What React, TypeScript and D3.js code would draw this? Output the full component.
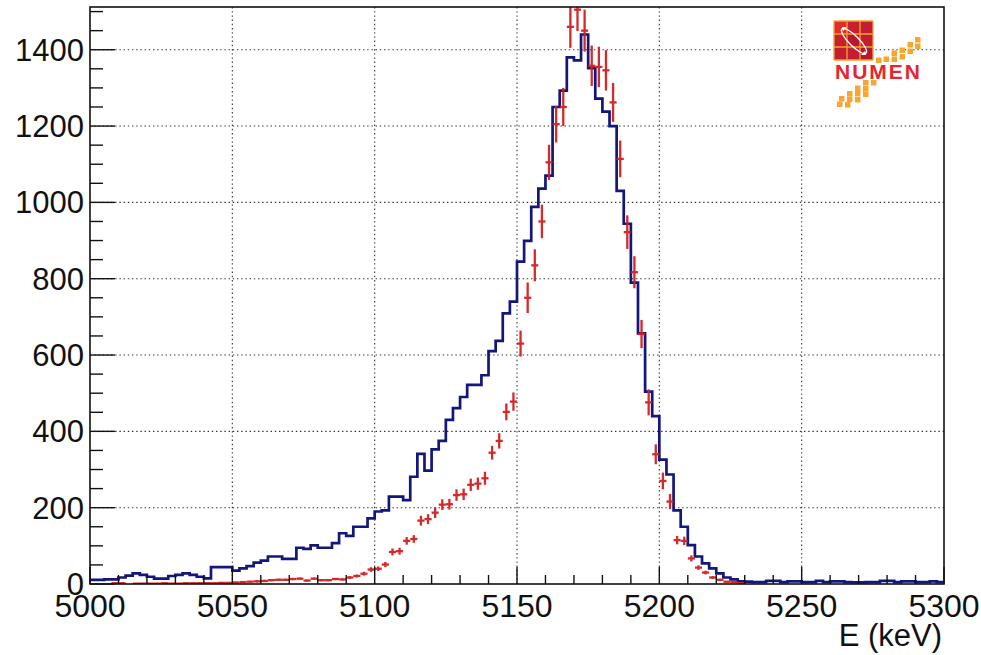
import React from 'react';
import * as d3 from 'd3';

// ---- data ----
const BIN_START = 5000; // keV
const BIN_WIDTH = 2.5; // keV

// blue histogram (simulation), counts per bin
const blueCounts = [
  11, 11, 12, 12, 17, 22, 28, 24, 19, 14,
  14, 21, 24, 28, 24, 19, 15, 44, 44, 44,
  35, 41, 47, 56, 61, 72, 72, 66, 66, 95,
  92, 101, 95, 95, 107, 133, 126, 150, 150, 172,
  190, 193, 229, 229, 220, 281, 341, 297, 353, 375,
  430, 461, 490, 522, 522, 547, 610, 637, 709, 740,
  845, 899, 988, 1036, 1070, 1250, 1293, 1380, 1372, 1440,
  1352, 1272, 1238, 1200, 1030, 944, 790, 657, 504, 440,
  326, 287, 193, 150, 102, 72, 54, 41, 28, 17,
  12, 7, 6, 5, 5, 8, 8, 5, 7, 7,
  5, 5, 8, 5, 7, 7, 5, 4, 4, 5,
  5, 8, 8, 5, 7, 7, 5, 5, 7, 5,
];

// red points (data), counts per bin
const redCounts = [
  0, 0, 0, 2, 2, 0, 1, 1, 1, 1,
  2, 1, 1, 2, 2, 2, 2, 2, 3, 3,
  4, 5, 6, 7, 8, 10, 11, 11, 13, 14,
  9, 14, 10, 10, 13, 12, 17, 21, 27, 38,
  40, 51, 84, 86, 113, 118, 166, 170, 187, 208,
  209, 233, 235, 260, 263, 277, 344, 375, 451, 478,
  630, 750, 835, 950, 1105, 1205, 1250, 1460, 1505, 1450,
  1358, 1355, 1346, 1262, 1114, 922, 817, 655, 476, 340,
  270, 216, 115, 113, 67, 43, 30, 17, 11, 6,
  5, 2, 0, 0, 0, 0, 0, 0, 0, 0,
  0, 0, 0, 0, 0, 0, 0, 0, 0, 0,
  0, 0, 0, 0, 0, 0, 0, 0, 0, 0,
];

// red vertical error (half length)
const redErrors = [
  0, 0, 0, 1, 1, 0, 1, 1, 1, 1,
  1, 1, 1, 1, 1, 1, 1, 1, 2, 2,
  2, 2, 2, 3, 3, 3, 3, 3, 3, 3,
  3, 3, 3, 3, 3, 3, 4, 4, 5, 6,
  6, 7, 9, 9, 10, 10, 13, 13, 14, 14,
  14, 15, 15, 16, 16, 17, 18, 20, 22, 24,
  34, 40, 42, 44, 46, 48, 50, 55, 56, 55,
  53, 53, 53, 51, 48, 44, 42, 37, 34, 26,
  22, 20, 11, 11, 8, 6, 5, 4, 3, 2,
  2, 1, 0, 0, 0, 0, 0, 0, 0, 0,
  0, 0, 0, 0, 0, 0, 0, 0, 0, 0,
  0, 0, 0, 0, 0, 0, 0, 0, 0, 0,
];

const xTickValues = [5000, 5050, 5100, 5150, 5200, 5250, 5300];
const yTickValues = [0, 200, 400, 600, 800, 1000, 1200, 1400];
const xTitle = 'E (keV)';
const logoText = 'NUMEN';

// ---- layout ----
const W = 981;
const H = 655;
const FL = 90, FR = 944, FT = 7, FB = 584;
const FONT = '"Liberation Sans", Arial, Helvetica, sans-serif';
const BLUE = '#13167a';
const RED = '#d21f1f';

const logoCells = [
  ['#e42b2b', '#c61f2e', '#c21d30'],
  ['#c61f2e', '#b9172c', '#c21d30'],
  ['#c21d30', '#c21d30', '#b9172c'],
];
const logoSquaresTop = [
  [915, 37], [915, 43.5], [907.5, 42], [907.5, 48.5], [899.5, 47.5], [899.5, 54],
  [891.5, 50.5], [891.5, 56.5], [883.5, 56.5], [876, 57.5],
];
const logoSquaresBottom = [
  [863, 80], [871, 80], [855, 85.5], [863, 86], [847, 91], [855, 91], [863, 91.5],
  [839, 96], [847, 96.5], [855, 97], [837, 101.5], [845, 102],
];

export default function App() {
  const x = d3.scaleLinear().domain([5000, 5300]).range([FL, FR]);
  const y = d3.scaleLinear().domain([0, 1512]).range([FB, FT]);

  const stepPts: [number, number][] = [];
  blueCounts.forEach((v, i) => {
    const e0 = BIN_START + i * BIN_WIDTH;
    stepPts.push([e0, v], [e0 + BIN_WIDTH, v]);
  });
  const line = d3
    .line<[number, number]>()
    .x((d) => x(d[0]))
    .y((d) => y(d[1]));
  const bluePath = line(stepPts) || '';

  const xMinor = d3.range(5000, 5300.1, 10);
  const yMinor = d3.range(0, 1512, 50);

  return (
    <svg
      width={W}
      height={H}
      viewBox={`0 0 ${W} ${H}`}
      style={{ position: 'absolute', left: 0, top: 0, background: '#fff', display: 'block' }}
    >
      <defs>
        <clipPath id="frameClip">
          <rect x={FL} y={FT} width={FR - FL} height={FB - FT} />
        </clipPath>
      </defs>
      <rect x={0} y={0} width={W} height={H} fill="#fff" />

      {/* grid */}
      <g stroke="#333" strokeWidth={1.1} strokeDasharray="1.4 2.8">
        {xTickValues
          .filter((v) => v > 5000 && v < 5300)
          .map((v) => (
            <line key={'gx' + v} x1={x(v)} x2={x(v)} y1={FT} y2={FB} />
          ))}
        {yTickValues
          .filter((v) => v > 0)
          .map((v) => (
            <line key={'gy' + v} x1={FL} x2={FR} y1={y(v)} y2={y(v)} />
          ))}
      </g>

      {/* data */}
      <g clipPath="url(#frameClip)">
        <path d={bluePath} fill="none" stroke={BLUE} strokeWidth={2.7} strokeLinejoin="miter" />
        <g stroke={RED} strokeWidth={2.3} opacity={0.95}>
          {redCounts.map((v, i) => {
            if (v <= 0) return null;
            const e0 = BIN_START + i * BIN_WIDTH;
            const c = e0 + BIN_WIDTH / 2;
            const err = redErrors[i];
            return (
              <g key={'r' + i}>
                <line x1={x(e0)} x2={x(e0 + BIN_WIDTH)} y1={y(v)} y2={y(v)} />
                {err > 0 && <line x1={x(c)} x2={x(c)} y1={y(v - err)} y2={y(v + err)} />}
              </g>
            );
          })}
        </g>
      </g>

      {/* ticks */}
      <g stroke="#111" strokeWidth={1.4}>
        {xMinor.map((v) => {
          const major = xTickValues.includes(v);
          return <line key={'tx' + v} x1={x(v)} x2={x(v)} y1={FB} y2={FB - (major ? 17 : 9)} />;
        })}
        {yMinor.map((v) => {
          const major = yTickValues.includes(v);
          return <line key={'ty' + v} x1={FL} x2={FL + (major ? 25 : 13)} y1={y(v)} y2={y(v)} />;
        })}
      </g>

      {/* frame */}
      <rect x={FL} y={FT} width={FR - FL} height={FB - FT} fill="none" stroke="#111" strokeWidth={1.6} />

      {/* labels */}
      <g fontFamily={FONT} fill="#111">
        {yTickValues.map((v) => (
          <text key={'ly' + v} x={84} y={y(v) + 11} fontSize={31} textAnchor="end">
            {v}
          </text>
        ))}
        {xTickValues.map((v) => (
          <text key={'lx' + v} x={x(v)} y={617} fontSize={32} textAnchor="middle">
            {v}
          </text>
        ))}
        <text x={942} y={646} fontSize={31} textAnchor="end">
          {xTitle}
        </text>
      </g>

      {/* logo */}
      <g>
        {logoCells.map((row, r) =>
          row.map((col, c) => (
            <rect key={`lc${r}${c}`} x={834 + c * 13} y={21 + r * 13} width={13} height={13} fill={col} />
          ))
        )}
        <g stroke="#f5a233" strokeWidth={1.3} fill="none">
          {[0, 1, 2, 3].map((k) => (
            <line key={'lv' + k} x1={834 + k * 13} x2={834 + k * 13} y1={21} y2={60} />
          ))}
          {[0, 1, 2, 3].map((k) => (
            <line key={'lh' + k} x1={834} x2={873} y1={21 + k * 13} y2={21 + k * 13} />
          ))}
        </g>
        <ellipse cx={854} cy={41} rx={17} ry={5} transform="rotate(45 854 41)" fill="none" stroke="#fff" strokeWidth={1.4} />
        <path d="M842,27 l5,0 l-4,4 z M866,55 l-5,0 l4,-4 z" fill="#fff" />
        <text
          x={835}
          y={79}
          fontFamily={FONT}
          fontSize={21}
          fontWeight={600}
          fill="#e4262d"
          textLength={85}
          lengthAdjust="spacing"
        >
          {logoText}
        </text>
        <g fill="#f7a632">
          {logoSquaresTop.concat(logoSquaresBottom).map(([sx, sy], k) => (
            <rect key={'sq' + k} x={sx} y={sy} width={5.5} height={5.5} />
          ))}
        </g>
      </g>
    </svg>
  );
}
